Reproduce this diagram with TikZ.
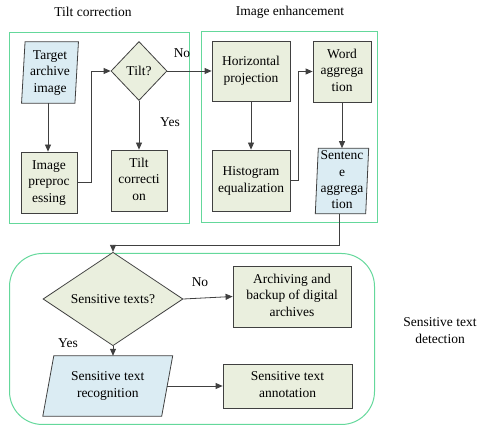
\documentclass[tikz,border=0pt]{standalone}
\usepackage{fontspec}
\setmainfont{Liberation Serif}
\newfontfamily\tnr{Liberation Serif}
\usetikzlibrary{shapes.geometric,arrows.meta,backgrounds,calc}
\definecolor{gfill}{RGB}{234,239,222}
\definecolor{bfill}{RGB}{219,236,243}
\definecolor{edge}{RGB}{64,64,64}
\definecolor{frame}{RGB}{100,216,155}
\newcommand{\mlines}[1]{\begin{tabular}{@{}c@{}}#1\end{tabular}}
\tikzset{
  txt/.style={font=\tnr\fontsize{13.5}{16.7}\selectfont, inner sep=0pt},
  gbox/.style={txt, draw=edge, fill=gfill, line width=0.8pt},
  pbox/.style={txt},
  dbox/.style={txt, shape=diamond, draw=edge, fill=gfill, line width=0.8pt},
  conn/.style={draw=edge, line width=0.8pt, -{Triangle[length=7pt,width=6pt]}},
  grp/.style={draw=frame, line width=1pt},
}
\begin{document}
\begin{tikzpicture}[x=1pt,y=-1pt]
\useasboundingbox (0,0) rectangle (480,430);
% frames
\draw[grp] (9.5,32.5) rectangle (189.5,223.5);
\draw[grp] (201.5,31.5) rectangle (377.5,222.5);
\draw[grp, rounded corners=33pt] (9.5,253.5) rectangle (374.5,424.5);
% titles
\node[txt] (t1) at (93,12) {Tilt correction};
\node[txt] (t2) at (290,12) {Image enhancement};
\node[txt] (t3) at (440,332) {\mlines{Sensitive text\\detection}};
% nodes
\node[pbox, minimum width=53pt, minimum height=61pt] (tai) at (50,72.5) {\mlines{Target\\archive\\image}};
\node[gbox, minimum width=56pt, minimum height=61pt] (pre) at (49,182.5) {\mlines{Image\\preproc\\essing}};
\node[dbox, minimum width=56pt, minimum height=59pt] (tilt) at (139,71) {Tilt?};
\node[gbox, minimum width=56pt, minimum height=61pt] (tc) at (139,180.5) {\mlines{Tilt\\correcti\\on}};
\node[gbox, minimum width=78pt, minimum height=60pt] (hp) at (251,71) {\mlines{Horizontal\\projection}};
\node[gbox, minimum width=78pt, minimum height=61pt] (he) at (251,180.5) {\mlines{Histogram\\equalization}};
\node[gbox, minimum width=58pt, minimum height=61pt] (wa) at (342,71.5) {\mlines{Word\\aggrega\\tion}};
\node[pbox, minimum width=50pt, minimum height=60pt, font=\tnr\fontsize{13.5}{16.3}\selectfont] (sa) at (342,181) {\mlines{Sentenc\\e\\aggrega\\tion}};
\node[dbox, minimum width=140pt, minimum height=60pt] (st) at (113,299) {Sensitive texts?};
\node[gbox, minimum width=118pt, minimum height=61pt] (arc) at (292,296.5) {\mlines{Archiving and\\backup of digital\\archives}};
\node[pbox, minimum width=118.5pt, minimum height=60pt] (str) at (107.75,386) {\mlines{Sensitive text\\recognition}};
\node[gbox, minimum width=129pt, minimum height=44pt] (sta) at (287.5,386) {\mlines{Sensitive text\\annotation}};
% parallelogram outlines
\begin{pgfonlayer}{background}
\filldraw[draw=edge, fill=bfill, line width=0.8pt]
  ([xshift=1.75pt]tai.north west) -- ([xshift=1.75pt]tai.north east) -- ([xshift=-1.75pt]tai.south east) -- ([xshift=-1.75pt]tai.south west) -- cycle;
\filldraw[draw=edge, fill=bfill, line width=0.8pt]
  ([xshift=1.5pt]sa.north west) -- ([xshift=1.5pt]sa.north east) -- ([xshift=-1.5pt]sa.south east) -- ([xshift=-1.5pt]sa.south west) -- cycle;
\filldraw[draw=edge, fill=bfill, line width=0.8pt]
  ([xshift=5.5pt]str.north west) -- ([xshift=5.5pt]str.north east) -- ([xshift=-5.5pt]str.south east) -- ([xshift=-5.5pt]str.south west) -- cycle;
\end{pgfonlayer}
% labels
\node[txt] (l1) at (182,53) {No};
\node[txt] (l2) at (170,122) {Yes};
\node[txt] (l3) at (200,282) {No};
\node[txt] (l4) at (68,343) {Yes};
% connectors
\draw[conn] ([xshift=-2pt]tai.south) -- ([xshift=-2pt]tai.south |- pre.north);
\draw[conn] (pre.east) -- ++(14,0) |- (tilt.west);
\draw[conn] (tilt.south) -- (tc.north);
\draw[conn] (tilt.east) -- (hp.west);
\draw[conn] (hp.south) -- (he.north);
\draw[conn] (he.east) -- ++(8,0) |- (wa.west);
\draw[conn] (wa.south) -- (sa.north);
\draw[conn] ([xshift=-3pt]sa.south) -- ++(0,32) -| (st.north);
\draw[conn] (st.east) -- (arc.west);
\draw[conn] (st.south) -- (st.south |- str.north);
\draw[conn] (str.east) -- (sta.west);
\end{tikzpicture}
\end{document}
